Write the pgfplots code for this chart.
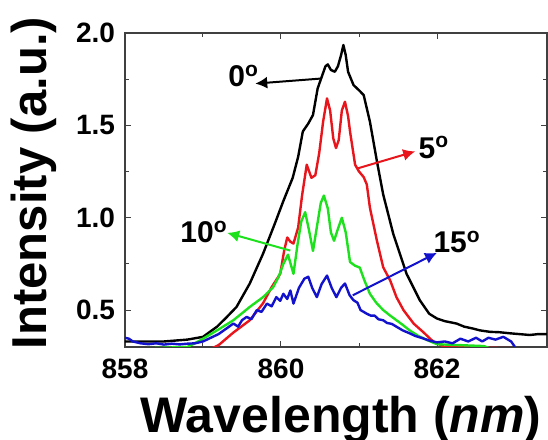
\documentclass[border=0pt]{standalone}
\usepackage{fontspec}
\setmainfont{Liberation Sans}
\usepackage{pgfplots}
\pgfplotsset{compat=1.18}
\usetikzlibrary{arrows.meta}

\definecolor{specred}{RGB}{232,22,28}
\definecolor{specgreen}{RGB}{30,225,30}
\definecolor{specblue}{RGB}{18,18,205}

\begin{document}
\begin{tikzpicture}
\begin{axis}[
    name=ax,
    scale only axis,
    width=211pt, height=157pt,
    xmin=858, xmax=863.41,
    ymin=0.3, ymax=2.0,
    xtick={858,860,862},
    ytick={0.5,1.0,1.5,2.0},
    minor x tick num=1,
    minor y tick num=1,
    tick align=inside,
    major tick length=3pt,
    minor tick length=2pt,
    axis line style={line width=0.6pt, black!75},
    every tick/.style={black!75, line width=0.5pt},
    /pgf/number format/assume math mode=true,
    xticklabel style={font=\fontsize{14}{16}\selectfont\bfseries,
        /pgf/number format/1000 sep={}, yshift=-2.5pt},
    yticklabel style={font=\fontsize{14}{16}\selectfont\bfseries,
        /pgf/number format/fixed, /pgf/number format/fixed zerofill,
        /pgf/number format/precision=1, xshift=-1.5pt},
    xlabel={Wavelength (\textit{nm})},
    ylabel={Intensity (a.u.)},
    xlabel style={font=\fontsize{25}{29}\selectfont\bfseries,
        at={(axis description cs:0.512,-0.271)}, anchor=base},
    ylabel style={font=\fontsize{24.5}{28}\selectfont\bfseries,
        at={(axis description cs:-0.185,0.522)}, anchor=base},
    every axis plot/.append style={line width=1.2pt, line join=round},
]

% 0 deg
\addplot[black] coordinates {
(858.0,0.33)(858.5,0.33)(858.8,0.34)(859.0,0.355)(859.18,0.41)(859.3,0.46)
(859.43,0.517)(859.6,0.644)(859.77,0.805)(859.92,0.967)(860.03,1.09)(860.15,1.216)
(860.22,1.33)(860.28,1.467)(860.35,1.51)(860.41,1.556)(860.47,1.70)(860.52,1.76)
(860.57,1.82)(860.6,1.83)(860.64,1.80)(860.69,1.79)(860.73,1.82)(860.77,1.88)
(860.80,1.935)(860.83,1.88)(860.86,1.79)(860.93,1.718)(861.0,1.69)(861.06,1.664)
(861.14,1.52)(861.23,1.305)(861.31,1.126)(861.44,0.911)(861.61,0.696)(861.78,0.553)
(861.9,0.48)(862.0,0.454)(862.1,0.44)(862.25,0.427)(862.35,0.41)(862.46,0.40)
(862.55,0.39)(862.68,0.382)(862.8,0.38)(862.94,0.374)(863.05,0.37)(863.19,0.365)
(863.3,0.37)(863.41,0.37)
};

% 5 deg
\addplot[specred] coordinates {
(858.0,0.25)(859.0,0.27)(859.2,0.31)(859.38,0.375)(859.6,0.445)(859.77,0.537)
(859.88,0.624)(859.99,0.696)(860.04,0.82)(860.08,0.893)(860.12,0.87)(860.16,0.86)
(860.22,0.947)(860.27,1.12)(860.33,1.287)(860.39,1.216)(860.44,1.23)(860.49,1.35)
(860.54,1.52)(860.59,1.646)(860.63,1.58)(860.67,1.43)(860.705,1.377)(860.74,1.42)
(860.78,1.58)(860.82,1.628)(860.86,1.55)(860.885,1.467)(860.95,1.287)(861.0,1.25)
(861.06,1.22)(861.1,1.18)(861.14,1.054)(861.23,0.875)(861.31,0.732)(861.4,0.66)
(861.48,0.57)(861.57,0.5)(861.7,0.427)(861.82,0.382)(861.95,0.33)(862.1,0.30)
(863.41,0.29)
};

% 10 deg
\addplot[specgreen] coordinates {
(858.0,0.29)(858.8,0.30)(858.96,0.335)(859.18,0.39)(859.39,0.445)(859.6,0.517)
(859.77,0.57)(859.9,0.624)(859.97,0.68)(860.03,0.75)(860.09,0.80)(860.13,0.74)
(860.16,0.696)(860.21,0.85)(860.26,0.98)(860.31,1.03)(860.36,0.93)(860.41,0.82)
(860.46,0.95)(860.51,1.08)(860.55,1.12)(860.6,1.05)(860.64,0.92)(860.68,0.875)
(860.73,0.94)(860.78,1.0)(860.83,0.92)(860.885,0.76)(860.95,0.74)(861.01,0.73)
(861.07,0.66)(861.14,0.588)(861.22,0.54)(861.31,0.5)(861.4,0.47)(861.48,0.445)
(861.56,0.42)(861.65,0.39)(861.76,0.36)(861.87,0.338)(862.0,0.315)(862.6,0.305)
(862.7,0.29)
};

% 15 deg
\addplot[specblue] coordinates {
(858.0,0.35)(858.05,0.345)(858.1,0.33)(858.2,0.32)(858.3,0.315)(858.4,0.32)
(858.5,0.313)(858.6,0.318)(858.7,0.314)(858.8,0.318)(858.9,0.32)(859.0,0.33)
(859.1,0.35)(859.2,0.37)(859.3,0.40)(859.39,0.427)(859.45,0.41)(859.5,0.445)
(859.56,0.463)(859.62,0.45)(859.69,0.5)(859.75,0.49)(859.82,0.535)(859.88,0.52)
(859.94,0.57)(859.99,0.55)(860.03,0.588)(860.08,0.56)(860.12,0.606)(860.16,0.535)
(860.23,0.62)(860.3,0.67)(860.35,0.68)(860.4,0.62)(860.46,0.57)(860.52,0.64)
(860.59,0.687)(860.65,0.62)(860.71,0.57)(860.77,0.62)(860.82,0.644)(860.88,0.58)
(860.93,0.553)(860.98,0.54)(861.02,0.50)(861.06,0.49)(861.1,0.48)(861.15,0.47)
(861.2,0.47)(861.25,0.45)(861.31,0.445)(861.36,0.43)(861.42,0.425)(861.48,0.41)
(861.56,0.39)(861.65,0.374)(861.72,0.36)(861.82,0.347)(861.9,0.335)(862.0,0.325)
(862.1,0.33)(862.2,0.32)(862.3,0.345)(862.4,0.33)(862.5,0.35)(862.58,0.33)
(862.66,0.35)(862.75,0.34)(862.85,0.355)(862.95,0.33)(863.0,0.30)
};

% angle annotations
\tikzset{ann/.style={font=\fontsize{15}{17}\selectfont\bfseries, inner sep=0pt, anchor=base west}}
\draw[black, line width=1pt, -{Latex[length=6pt,width=6pt]}]
    (axis cs:860.5,1.753) -- (axis cs:859.67,1.726);
\node[ann] at (axis cs:859.32,1.709) {0\textsuperscript{o}};
\draw[specred, line width=1pt, -{Latex[length=6pt,width=6pt]}]
    (axis cs:860.99,1.268) -- (axis cs:861.72,1.359);
\node[ann] at (axis cs:861.76,1.321) {5\textsuperscript{o}};
\draw[specgreen, line width=1pt, -{Latex[length=6pt,width=6pt]}]
    (axis cs:860.12,0.822) -- (axis cs:859.31,0.918);
\node[ann] at (axis cs:858.705,0.865) {10\textsuperscript{o}};
\draw[specblue, line width=1pt, -{Latex[length=6pt,width=6pt]}]
    (axis cs:860.92,0.58) -- (axis cs:862.0,0.81);
\node[ann] at (axis cs:861.95,0.811) {15\textsuperscript{o}};
\end{axis}
\pgfresetboundingbox
\path[use as bounding box] (ax.south west) ++(-62.5pt,173.5pt) rectangle ++(274pt,-220pt);
\end{tikzpicture}
\end{document}
